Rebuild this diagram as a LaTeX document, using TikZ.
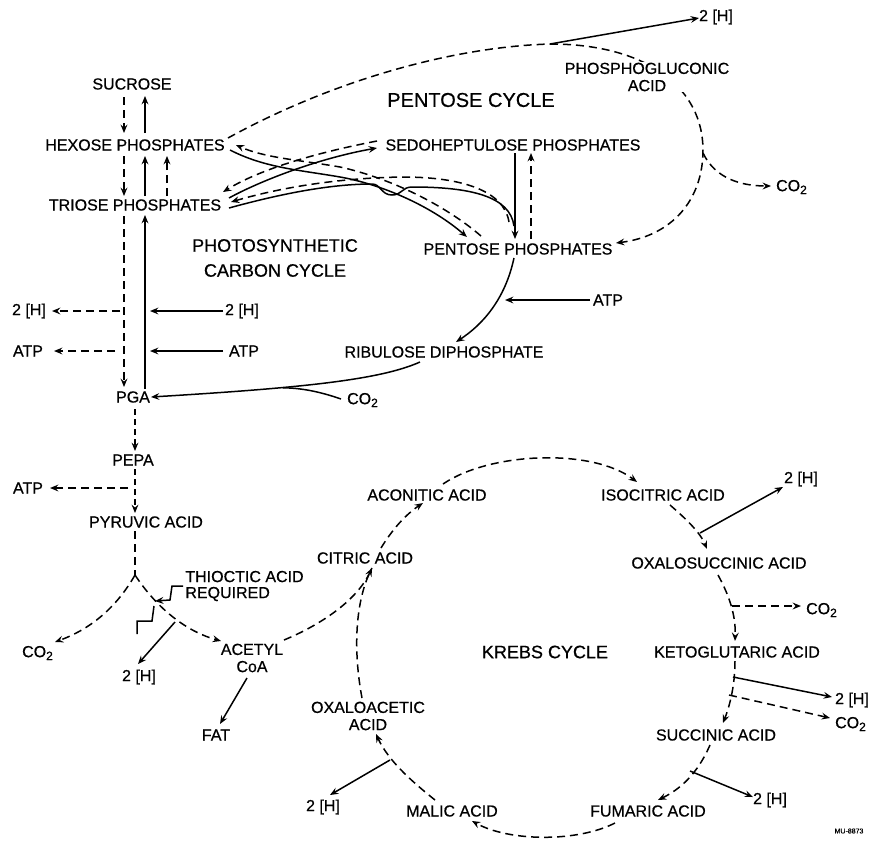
\documentclass[tikz,border=0pt]{standalone}
\usepackage{fontspec}
\setmainfont{Liberation Sans}[FakeBold=0.6]
\usetikzlibrary{arrows.meta,backgrounds}
\begin{document}
\begin{tikzpicture}[x=0.5pt,y=-0.5pt,
  lbl/.style={inner sep=0.5pt,font=\fontsize{8}{8.6}\selectfont,align=center},
  ttl/.style={inner sep=0.5pt,font=\fontsize{9}{12.5}\selectfont,align=center},
  sol/.style={line width=0.75pt},
  dsh/.style={line width=0.75pt,dash pattern=on 4pt off 2.5pt},
  fdsh/.style={line width=0.6pt,dash pattern=on 3pt off 2pt},
  arr/.style={-{Stealth[length=4.2pt,width=3.4pt,inset=1.5pt]}},
]
\useasboundingbox (0,0) rectangle (869,847);

% ---------------- labels ----------------
\node[lbl] (sucrose) at (132,84) {SUCROSE};
\node[lbl] (hexose) at (135,145) {HEXOSE PHOSPHATES};
\node[lbl] (triose) at (135,205) {TRIOSE PHOSPHATES};
\node[ttl] (pcc) at (275,258) {PHOTOSYNTHETIC\\CARBON CYCLE};
\node[ttl,font=\fontsize{10}{12}\selectfont] (pentcyc) at (471,100) {PENTOSE CYCLE};
\node[lbl,fill=white] (pgluc) at (647,77) {PHOSPHOGLUCONIC\\ACID};
\node[lbl] (sedo) at (513,145) {SEDOHEPTULOSE PHOSPHATES};
\node[lbl] (pent) at (518,249) {PENTOSE PHOSPHATES};
\node[lbl] (co2a) at (792,187) {CO\textsubscript{2}};
\node[lbl] (h2top) at (716,17) {2 [H]};
\node[lbl] (h2l) at (29,311) {2 [H]};
\node[lbl] (atpl) at (28,351) {ATP};
\node[lbl] (h2r) at (242,311) {2 [H]};
\node[lbl] (atpr) at (244,351) {ATP};
\node[lbl] (atpm) at (608,300) {ATP};
\node[lbl] (ribu) at (444,352) {RIBULOSE DIPHOSPHATE};
\node[lbl] (pga) at (133,397) {PGA};
\node[lbl] (co2b) at (363,400) {CO\textsubscript{2}};
\node[lbl] (pepa) at (133,460) {PEPA};
\node[lbl] (atpl2) at (28,488) {ATP};
\node[lbl] (pyr) at (146,522) {PYRUVIC ACID};
\node[lbl,anchor=west,align=left,font=\fontsize{8}{8}\selectfont] (thio) at (184,586) {THIOCTIC ACID\\REQUIRED};
\node[lbl] (co2c) at (38,653) {CO\textsubscript{2}};
\node[lbl] (h2c) at (139,677) {2 [H]};
\node[lbl] (acetyl) at (252,658) {ACETYL\\CoA};
\node[lbl] (fat) at (216,735) {FAT};
\node[lbl] (oxalo) at (368,716) {OXALOACETIC\\ACID};
\node[lbl] (h2d) at (323,807) {2 [H]};
\node[lbl] (malic) at (452,811) {MALIC ACID};
\node[lbl] (fumaric) at (648,811) {FUMARIC ACID};
\node[lbl] (h2e) at (770,800) {2 [H]};
\node[lbl] (succ) at (716,735) {SUCCINIC ACID};
\node[lbl] (co2d) at (851,724) {CO\textsubscript{2}};
\node[lbl] (h2f) at (852,700) {2 [H]};
\node[lbl] (keto) at (737,652) {KETOGLUTARIC ACID};
\node[lbl] (co2e) at (822,610) {CO\textsubscript{2}};
\node[lbl] (oxsuc) at (719,563) {OXALOSUCCINIC ACID};
\node[lbl] (h2g) at (801,479) {2 [H]};
\node[lbl] (isoc) at (663,495) {ISOCITRIC ACID};
\node[lbl] (aconit) at (427,495) {ACONITIC ACID};
\node[lbl] (citric) at (365,558) {CITRIC ACID};
\node[ttl] (krebs) at (545,652) {KREBS CYCLE};
\node[inner sep=0pt,font=\fontsize{3.5}{4}\selectfont] (mu) at (849,831) {MU-8873};

% ---------------- coordinates ----------------
\coordinate (sucD1) at (124,97);  \coordinate (sucD2) at (124,133);
\coordinate (hexU1) at (145,133); \coordinate (hexU2) at (145,96);
\coordinate (hexD1) at (124,156); \coordinate (hexD2) at (124,196);
\coordinate (triU1) at (145,196); \coordinate (triU2) at (145,156);
\coordinate (triV1) at (167,196); \coordinate (triV2) at (167,156);
\coordinate (triD1) at (124,216); \coordinate (triD2) at (124,387);
\coordinate (pgaU1) at (145,389); \coordinate (pgaU2) at (145,215);
\coordinate (brH) at (120,311); \coordinate (brHt) at (52,311);
\coordinate (brA) at (115,351); \coordinate (brAt) at (54,351);
\coordinate (inHs) at (223,311); \coordinate (inHt) at (150,311);
\coordinate (inAs) at (223,351); \coordinate (inAt) at (150,351);
\coordinate (ribS) at (420,362); \coordinate (pgaE) at (151,397);
\coordinate (co2bW) at (341,399); \coordinate (co2bJ) at (283,387.8);
\coordinate (pgaD1) at (135,409); \coordinate (pgaD2) at (135,451);
\coordinate (pepD1) at (135,469); \coordinate (pepD2) at (135,513);
\coordinate (pepB) at (128,488); \coordinate (pepBt) at (50,488);
\coordinate (pyrD) at (135,531); \coordinate (fork) at (135,575);
\coordinate (co2cT) at (55,642); \coordinate (acetT) at (221,641);
\coordinate (th1) at (183,586); \coordinate (th2) at (172,586);
\coordinate (th3) at (170,600); \coordinate (th4) at (155,601);
\coordinate (zz1) at (137,634); \coordinate (zz2) at (137,621);
\coordinate (zz3) at (152,621); \coordinate (zz4) at (154,606);
\coordinate (brC) at (175,622); \coordinate (brCt) at (138,664);
\coordinate (fatS) at (247,678); \coordinate (fatT) at (220,724);
\coordinate (acE) at (284,640); \coordinate (citT) at (372,568);
\coordinate (oxaT) at (362,698);
\coordinate (citS) at (381,548); \coordinate (aconT) at (423,503);
\coordinate (aconS) at (443,484); \coordinate (isoT) at (637,482);
\coordinate (isoS) at (670,505); \coordinate (oxsT) at (707,549);
\coordinate (brG) at (700,533); \coordinate (brGt) at (783,487);
\coordinate (oxsS) at (718,575); \coordinate (ketT) at (735,641);
\coordinate (brE) at (732,606); \coordinate (brEt) at (801,606);
\coordinate (ketS) at (735,661); \coordinate (sucT) at (723,723);
\coordinate (brF) at (733,677); \coordinate (brFt) at (832,697);
\coordinate (brD) at (729,695); \coordinate (brDt) at (830,718);
\coordinate (sucS) at (710,745); \coordinate (fumT) at (658,800);
\coordinate (brK) at (690,771); \coordinate (brKt) at (753,797);
\coordinate (fumS) at (615,823); \coordinate (malT) at (472,821);
\coordinate (malS) at (435,800); \coordinate (oxaAT) at (376,734);
\coordinate (brM) at (390,760); \coordinate (brMt) at (330,795);
% top
\coordinate (arcS) at (228,138); \coordinate (arcTop) at (550,44);
\coordinate (arcR) at (703,150); \coordinate (arcE) at (616,243);
\coordinate (h2topT) at (699,18);
\coordinate (co2aS) at (703,153); \coordinate (co2aT) at (771,186);
\coordinate (sedD1) at (515,153); \coordinate (sedD2) at (515,239);
\coordinate (penU1) at (531,239); \coordinate (penU2) at (531,153);
\coordinate (penS) at (514,258); \coordinate (ribT) at (456,342);
\coordinate (atpmS) at (590,300); \coordinate (atpmT) at (505,300);
% crossing
\coordinate (hexE1) at (230,150); \coordinate (penT1) at (467,237);
\coordinate (penS2) at (481,236); \coordinate (hexT2) at (236,145);
\coordinate (triE1) at (229,198); \coordinate (sedT1) at (377,148);
\coordinate (sedS2) at (377,141); \coordinate (triT2) at (223,192);
\coordinate (triE3) at (229,208); \coordinate (penJ) at (514,226);
\coordinate (penS4) at (509,222); \coordinate (triT4) at (231,202);

% ---------------- connectors ----------------
% left column
\draw[dsh,arr] (sucD1) -- (sucD2);
\draw[sol,arr] (hexU1) -- (hexU2);
\draw[dsh,arr] (hexD1) -- (hexD2);
\draw[sol,arr] (triU1) -- (triU2);
\draw[dsh,arr] (triV1) -- (triV2);
\draw[dsh,arr] (triD1) -- (triD2);
\draw[sol,arr] (pgaU1) -- (pgaU2);
\draw[dsh,arr] (brH) -- (brHt);
\draw[dsh,arr] (brA) -- (brAt);
\draw[sol,arr] (inHs) -- (inHt);
\draw[sol,arr] (inAs) -- (inAt);
\draw[sol,arr] (ribS) .. controls (380,380) and (300,388) .. (pgaE);
\draw[sol] (co2bW) .. controls (318,391) and (300,388) .. (co2bJ);
\draw[fdsh,arr] (pgaD1) -- (pgaD2);
\draw[fdsh,arr] (pepD1) -- (pepD2);
\draw[dsh,arr] (pepB) -- (pepBt);
\draw[dsh] (pyrD) -- (fork);
\draw[dsh,arr] (fork) .. controls (115,610) and (88,630) .. (co2cT);
\draw[dsh,arr] (fork) .. controls (158,610) and (188,632) .. (acetT);
\draw[sol,arr] (th1) -- (th2) -- (th3) -- (th4);
\draw[sol] (zz1) -- (zz2) -- (zz3) -- (zz4);
\draw[sol,arr] (brC) -- (brCt);
\draw[sol,arr] (fatS) -- (fatT);
% Krebs cycle
\draw[dsh,arr] (acE) .. controls (318,626) and (356,602) .. (citT);
\draw[dsh] (oxaT) .. controls (353,650) and (355,600) .. (citT);
\draw[dsh,arr] (citS) .. controls (392,530) and (405,515) .. (aconT);
\draw[dsh,arr] (aconS) .. controls (490,452) and (592,448) .. (isoT);
\draw[dsh,arr] (isoS) .. controls (685,518) and (700,532) .. (oxsT);
\draw[sol,arr] (brG) -- (brGt);
\draw[dsh,arr] (oxsS) .. controls (729,595) and (736,615) .. (ketT);
\draw[dsh,arr] (brE) -- (brEt);
\draw[dsh,arr] (ketS) .. controls (735,685) and (730,705) .. (sucT);
\draw[sol,arr] (brF) -- (brFt);
\draw[dsh,arr] (brD) -- (brDt);
\draw[dsh,arr] (sucS) .. controls (700,768) and (685,787) .. (fumT);
\draw[sol,arr] (brK) -- (brKt);
\draw[dsh,arr] (fumS) .. controls (578,842) and (510,842) .. (malT);
\draw[dsh,arr] (malS) .. controls (410,780) and (388,760) .. (oxaAT);
\draw[sol,arr] (brM) -- (brMt);
% top: pentose cycle
\begin{scope}[on background layer]
\draw[dsh] (arcS) .. controls (330,82) and (450,47) .. (arcTop);
\draw[dsh,arr] (arcTop) .. controls (650,44) and (703,90) .. (arcR)
      .. controls (703,200) and (672,236) .. (arcE);
\end{scope}
\draw[sol,arr] (arcTop) -- (h2topT);
\draw[dsh,arr] (co2aS) .. controls (715,178) and (740,186) .. (co2aT);
\draw[sol,arr] (sedD1) -- (sedD2);
\draw[dsh,arr] (penU1) -- (penU2);
\draw[sol,arr] (penS) .. controls (505,300) and (482,325) .. (ribT);
\draw[sol,arr] (atpmS) -- (atpmT);
% crossing transfers
\draw[sol,arr] (hexE1) .. controls (265,168) and (300,170) .. (340,177)
      .. controls (380,184) and (430,205) .. (penT1);
\draw[dsh,arr] (penS2) .. controls (445,205) and (390,178) .. (340,167)
      .. controls (300,160) and (265,158) .. (hexT2);
\draw[sol,arr] (triE1) .. controls (262,180) and (320,158) .. (sedT1);
\draw[dsh,arr] (sedS2) .. controls (320,152) and (262,168) .. (triT2);
\draw[sol] (triE3) .. controls (280,194) and (330,184) .. (372,184)
      .. controls (381,184) and (381,195) .. (392,195)
      .. controls (402,195) and (402,187) .. (412,187)
      .. controls (470,187) and (510,196) .. (penJ);
\draw[dsh,arr] (penS4) .. controls (504,190) and (460,177) .. (403,177)
      .. controls (330,178) and (272,190) .. (triT4);
\end{tikzpicture}
\end{document}
